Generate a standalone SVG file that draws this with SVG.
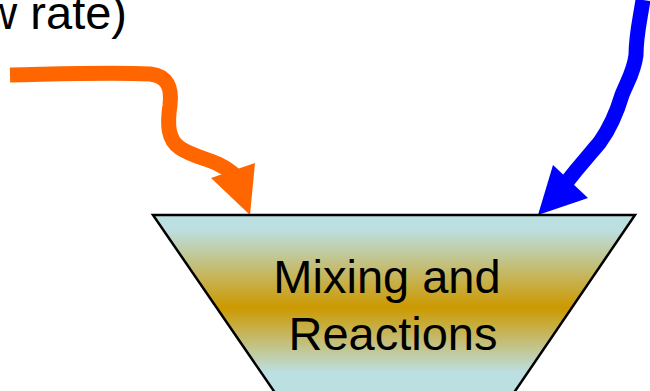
<svg xmlns="http://www.w3.org/2000/svg" width="650" height="391" viewBox="0 0 650 391">
<defs>
<linearGradient id="fill" x1="0" y1="215" x2="0" y2="400" gradientUnits="userSpaceOnUse">
<stop offset="0" stop-color="#BCDFE1"/>
<stop offset="0.08" stop-color="#BCDFE1"/>
<stop offset="0.5" stop-color="#CC9900"/>
<stop offset="0.85" stop-color="#BCDFE1"/>
<stop offset="1" stop-color="#BCDFE1"/>
</linearGradient>
<style>
text{font-family:"Liberation Sans",Arial,sans-serif;font-size:47px;fill:#000}
.arrow{fill:none;stroke-width:15;stroke-linecap:butt;stroke-linejoin:round}
</style>
</defs>
<text x="127" y="29" text-anchor="end">w rate)</text>
<g id="connectors">
<g id="orange-arrow">
<path class="arrow" stroke="#FF6600" d="M10,75 C60,74 110,72 150,74 C168,76 172,88 170,105 C167,125 168,140 180,148 C192,156 205,158 218,164 C226,168 232,172 238,178"/>
<polygon fill="#FF6600" points="211,178 255,163 250,215"/>
</g>
<g id="blue-arrow">
<path class="arrow" stroke="#0000FF" stroke-width="16" d="M643,0 C640,20 636,35 636,55 C634,72 627,82 622,95 C616,115 610,128 600,142 C592,152 582,162 562,188"/>
<polygon fill="#0000FF" points="553,165 588,198 538,215"/>
</g>
</g>
<g id="mixer">
<polygon points="153,215 635,215 509,400 280,400" fill="url(#fill)" stroke="#000" stroke-width="2.5" stroke-linejoin="miter"/>
<text x="387" y="293" text-anchor="middle">Mixing and</text>
<text x="393" y="350" text-anchor="middle">Reactions</text>
</g>
</svg>
